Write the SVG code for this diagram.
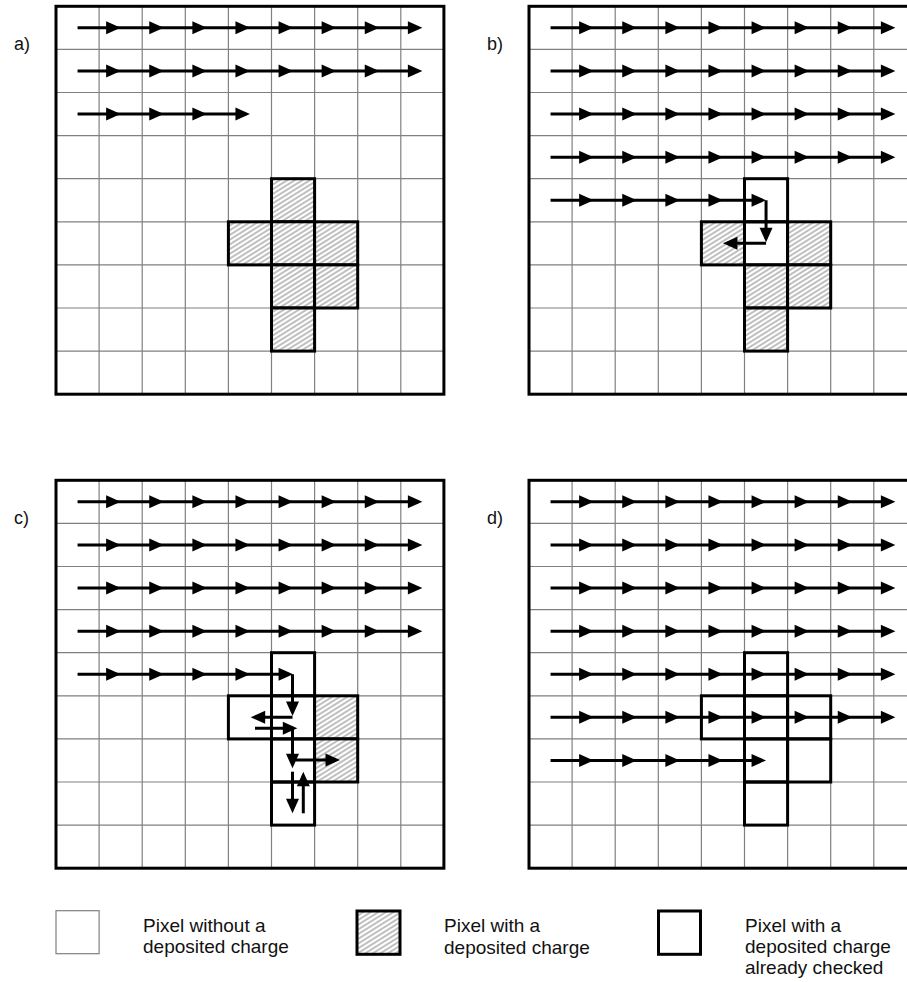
<svg xmlns="http://www.w3.org/2000/svg" xmlns:xlink="http://www.w3.org/1999/xlink" width="907" height="982" viewBox="0 0 907 982">
<style>
.gl{fill:none;stroke:#808080;stroke-width:1.2}
.ob{fill:none;stroke:#000;stroke-width:3}
.hc{fill:url(#hatch);stroke:#000;stroke-width:3}
.ck{fill:none;stroke:#000;stroke-width:3}
.ar{fill:none;stroke:#000;stroke-width:3;marker-mid:url(#am);marker-end:url(#ae)}
.lb{font-family:"Liberation Sans",Arial,sans-serif;font-size:18px;fill:#111}
.lt{font-family:"Liberation Sans",Arial,sans-serif;font-size:19px;fill:#111}
</style>
<defs>
<pattern id="hatch" patternUnits="userSpaceOnUse" width="8" height="4" patternTransform="rotate(-32)">
<rect width="8" height="4" fill="#fff"/>
<line x1="0" y1="2" x2="8" y2="2" stroke="#707070" stroke-width="0.9"/>
</pattern>
<marker id="am" markerUnits="userSpaceOnUse" markerWidth="16" markerHeight="14" refX="14.5" refY="6.5" orient="auto" overflow="visible"><path d="M0 0L14.5 6.5L0 13Z" fill="#000"/></marker>
<marker id="ae" markerUnits="userSpaceOnUse" markerWidth="16" markerHeight="14" refX="10.5" refY="6.5" orient="auto" overflow="visible"><path d="M0 0L14.5 6.5L0 13Z" fill="#000"/></marker>
<g id="grid">
<rect x="0" y="0" width="387.9" height="387.9" fill="#fff"/>
<path class="gl" d="M43.1 0V387.9M86.2 0V387.9M129.3 0V387.9M172.4 0V387.9M215.5 0V387.9M258.6 0V387.9M301.7 0V387.9M344.8 0V387.9M0 43.1H387.9M0 86.2H387.9M0 129.3H387.9M0 172.4H387.9M0 215.5H387.9M0 258.6H387.9M0 301.7H387.9M0 344.8H387.9"/>
<rect class="ob" x="0" y="0" width="387.9" height="387.9"/>
</g>
</defs>
<rect width="907" height="982" fill="#fff"/>

<g id="label-a"><text class="lb" x="14" y="50">a)</text></g>
<g id="label-b"><text class="lb" x="487" y="50">b)</text></g>
<g id="label-c"><text class="lb" x="14" y="524">c)</text></g>
<g id="label-d"><text class="lb" x="487" y="524">d)</text></g>

<g id="panel-a" transform="translate(56,6.3)">
<use href="#grid"/>
<rect id="a-c54" class="hc" x="215.5" y="172.4" width="43.1" height="43.1"/>
<rect id="a-c45" class="hc" x="172.4" y="215.5" width="43.1" height="43.1"/>
<rect id="a-c55" class="hc" x="215.5" y="215.5" width="43.1" height="43.1"/>
<rect id="a-c65" class="hc" x="258.6" y="215.5" width="43.1" height="43.1"/>
<rect id="a-c56" class="hc" x="215.5" y="258.6" width="43.1" height="43.1"/>
<rect id="a-c66" class="hc" x="258.6" y="258.6" width="43.1" height="43.1"/>
<rect id="a-c57" class="hc" x="215.5" y="301.7" width="43.1" height="43.1"/>
</g>

<g id="panel-b" transform="translate(529,6.3)">
<use href="#grid"/>
<rect id="b-c54" class="ck" x="215.5" y="172.4" width="43.1" height="43.1"/>
<rect id="b-c45" class="hc" x="172.4" y="215.5" width="43.1" height="43.1"/>
<rect id="b-c55" class="ck" x="215.5" y="215.5" width="43.1" height="43.1"/>
<rect id="b-c65" class="hc" x="258.6" y="215.5" width="43.1" height="43.1"/>
<rect id="b-c56" class="hc" x="215.5" y="258.6" width="43.1" height="43.1"/>
<rect id="b-c66" class="hc" x="258.6" y="258.6" width="43.1" height="43.1"/>
<rect id="b-c57" class="hc" x="215.5" y="301.7" width="43.1" height="43.1"/>
</g>

<g id="panel-c" transform="translate(56,480.3)">
<use href="#grid"/>
<rect id="c-c54" class="ck" x="215.5" y="172.4" width="43.1" height="43.1"/>
<rect id="c-c45" class="ck" x="172.4" y="215.5" width="43.1" height="43.1"/>
<rect id="c-c55" class="ck" x="215.5" y="215.5" width="43.1" height="43.1"/>
<rect id="c-c65" class="hc" x="258.6" y="215.5" width="43.1" height="43.1"/>
<rect id="c-c56" class="ck" x="215.5" y="258.6" width="43.1" height="43.1"/>
<rect id="c-c66" class="hc" x="258.6" y="258.6" width="43.1" height="43.1"/>
<rect id="c-c57" class="ck" x="215.5" y="301.7" width="43.1" height="43.1"/>
</g>

<g id="panel-d" transform="translate(529,480.3)">
<use href="#grid"/>
<rect id="d-c54" class="ck" x="215.5" y="172.4" width="43.1" height="43.1"/>
<rect id="d-c45" class="ck" x="172.4" y="215.5" width="43.1" height="43.1"/>
<rect id="d-c55" class="ck" x="215.5" y="215.5" width="43.1" height="43.1"/>
<rect id="d-c65" class="ck" x="258.6" y="215.5" width="43.1" height="43.1"/>
<rect id="d-c56" class="ck" x="215.5" y="258.6" width="43.1" height="43.1"/>
<rect id="d-c66" class="ck" x="258.6" y="258.6" width="43.1" height="43.1"/>
<rect id="d-c57" class="ck" x="215.5" y="301.7" width="43.1" height="43.1"/>
</g>

<g id="connectors">
<g id="conn-a" transform="translate(56,6.3)">
<path class="ar" d="M21.55 21.55H64.65H107.75H150.85H193.95H237.05H280.15H323.25H362.35"/>
<path class="ar" d="M21.55 64.65H64.65H107.75H150.85H193.95H237.05H280.15H323.25H362.35"/>
<path class="ar" d="M21.55 107.75H64.65H107.75H150.85H189.95"/>
</g>
<g id="conn-b" transform="translate(529,6.3)">
<path class="ar" d="M21.55 21.55H64.65H107.75H150.85H193.95H237.05H280.15H323.25H362.35"/>
<path class="ar" d="M21.55 64.65H64.65H107.75H150.85H193.95H237.05H280.15H323.25H362.35"/>
<path class="ar" d="M21.55 107.75H64.65H107.75H150.85H193.95H237.05H280.15H323.25H362.35"/>
<path class="ar" d="M21.55 150.85H64.65H107.75H150.85H193.95H237.05H280.15H323.25H362.35"/>
<path class="ar" d="M21.55 193.95H64.65H107.75H150.85H193.95H233.05"/>
<path class="ar" d="M237.05 193.95V232"/>
<path class="ar" d="M237.05 237.05H197.95"/>
</g>
<g id="conn-c" transform="translate(56,480.3)">
<path class="ar" d="M21.55 21.55H64.65H107.75H150.85H193.95H237.05H280.15H323.25H362.35"/>
<path class="ar" d="M21.55 64.65H64.65H107.75H150.85H193.95H237.05H280.15H323.25H362.35"/>
<path class="ar" d="M21.55 107.75H64.65H107.75H150.85H193.95H237.05H280.15H323.25H362.35"/>
<path class="ar" d="M21.55 150.85H64.65H107.75H150.85H193.95H237.05H280.15H323.25H362.35"/>
<path class="ar" d="M21.55 193.95H64.65H107.75H150.85H193.95H233.05"/>
<path class="ar" d="M236.5 193.95V231.7"/>
<path class="ar" d="M236.5 237H198.7"/>
<path class="ar" d="M199 248H237.3"/>
<path class="ar" d="M236.5 248V284"/>
<path class="ar" d="M236.5 279.7H280"/>
<path class="ar" d="M236.5 291.4V329"/>
<path class="ar" d="M247.3 333V295.4"/>
</g>
<g id="conn-d" transform="translate(529,480.3)">
<path class="ar" d="M21.55 21.55H64.65H107.75H150.85H193.95H237.05H280.15H323.25H362.35"/>
<path class="ar" d="M21.55 64.65H64.65H107.75H150.85H193.95H237.05H280.15H323.25H362.35"/>
<path class="ar" d="M21.55 107.75H64.65H107.75H150.85H193.95H237.05H280.15H323.25H362.35"/>
<path class="ar" d="M21.55 150.85H64.65H107.75H150.85H193.95H237.05H280.15H323.25H362.35"/>
<path class="ar" d="M21.55 193.95H64.65H107.75H150.85H193.95H237.05H280.15H323.25H362.35"/>
<path class="ar" d="M21.55 237.05H64.65H107.75H150.85H193.95H237.05H280.15H323.25H362.35"/>
<path class="ar" d="M21.55 280.15H64.65H107.75H150.85H193.95H233.05"/>
</g>
</g>

<g id="legend-empty">
<rect x="56" y="910.7" width="43.1" height="43" fill="#fff" stroke="#808080" stroke-width="1.2"/>
<text class="lt" x="143" y="932.3">Pixel without a</text>
<text class="lt" x="143" y="953.3">deposited charge</text>
</g>
<g id="legend-charge">
<rect class="hc" x="357" y="911" width="43" height="43.3"/>
<text class="lt" x="444" y="932.3">Pixel with a</text>
<text class="lt" x="444" y="953.8">deposited charge</text>
</g>
<g id="legend-checked">
<rect class="ck" x="658.5" y="911" width="42" height="43.3"/>
<text class="lt" x="745" y="932.3">Pixel with a</text>
<text class="lt" x="745" y="953.3">deposited charge</text>
<text class="lt" x="745" y="974.3">already checked</text>
</g>
</svg>
